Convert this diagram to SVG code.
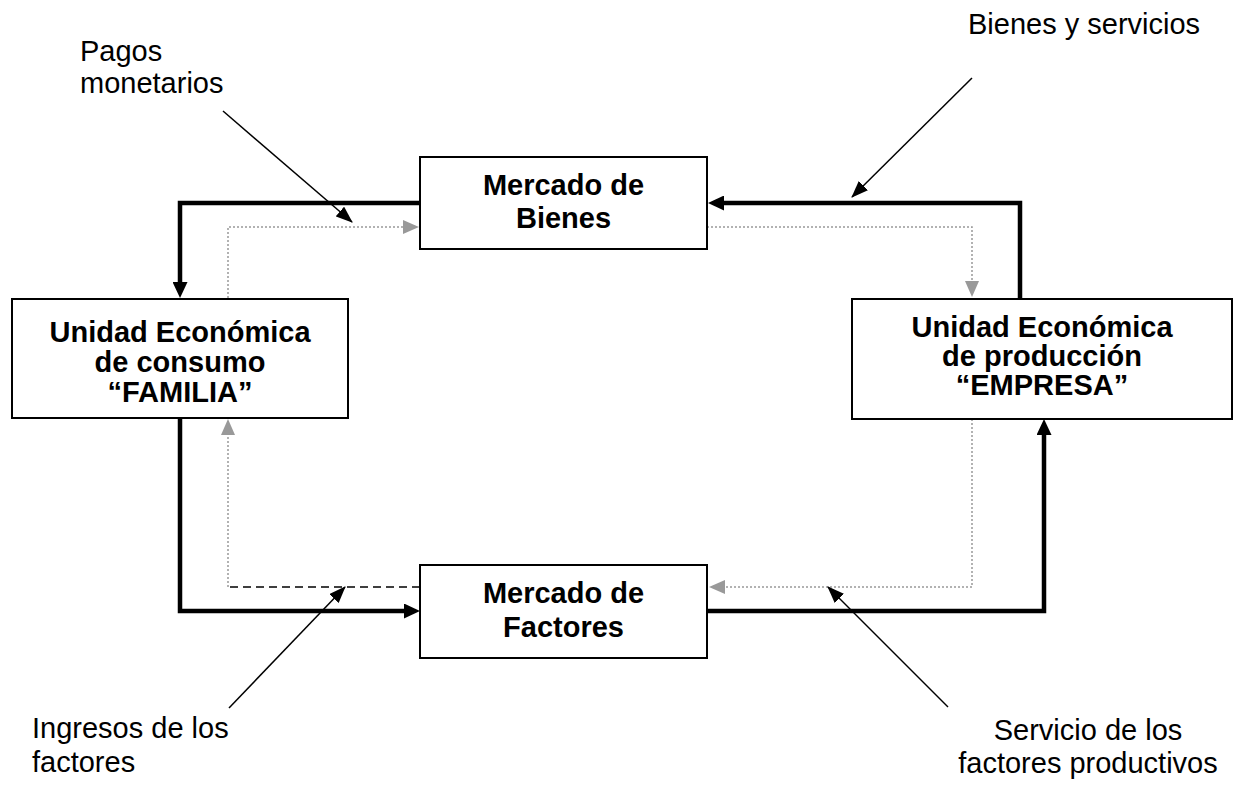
<svg xmlns="http://www.w3.org/2000/svg" width="1241" height="788" viewBox="0 0 1241 788">
<style>
.box{fill:#fff;stroke:#000;stroke-width:2}
.bt{font-family:"Liberation Sans",Arial,sans-serif;font-size:29px;font-weight:bold;fill:#000;text-anchor:middle}
.lt{font-family:"Liberation Sans",Arial,sans-serif;font-size:29px;fill:#000}
.thick{fill:none;stroke:#000;stroke-width:4.5;marker-end:url(#aThick)}
.dot{fill:none;stroke:#999;stroke-width:1.5;stroke-dasharray:2 2;marker-end:url(#aGray)}
.dash{fill:none;stroke:#000;stroke-width:1.5;stroke-dasharray:8 5}
.thin{fill:none;stroke:#000;stroke-width:1.5;marker-end:url(#aThin)}
</style>
<defs>
<marker id="aThick" markerUnits="userSpaceOnUse" markerWidth="16" markerHeight="15" refX="1" refY="7.5" orient="auto"><path d="M0,0 L16,7.5 L0,15 z" fill="#000"/></marker>
<marker id="aGray" markerUnits="userSpaceOnUse" markerWidth="16" markerHeight="14" refX="1" refY="7" orient="auto"><path d="M0,0 L16,7 L0,14 z" fill="#999"/></marker>
<marker id="aThin" markerUnits="userSpaceOnUse" markerWidth="17" markerHeight="13" refX="16" refY="6.5" orient="auto"><path d="M0,0 L17,6.5 L0,13 z" fill="#000"/></marker>
</defs>
<rect width="1241" height="788" fill="#fff"/>
<g id="connectors">
<path class="thick" d="M420,203 H180 V283"/>
<path class="thick" d="M1020,298 V203 H723"/>
<path class="thick" d="M180,418 V611 H405"/>
<path class="thick" d="M707,611 H1044 V434"/>
<path class="dot" d="M228,298 V227 H404"/>
<path class="dot" d="M707,227 H972 V282"/>
<path class="dot" d="M972,419 V587 H724"/>
<path class="dash" d="M420,587 H230"/>
<path class="dot" d="M228,587 V434"/>
<path class="thin" d="M223,111 L352,222"/>
<path class="thin" d="M972,78 L852,197"/>
<path class="thin" d="M229,708 L345,587"/>
<path class="thin" d="M948,707 L828,587"/>
</g>
<g id="mercado-bienes">
<rect class="box" x="420" y="157" width="287" height="92"/>
<text class="bt" x="563.5" y="195">Mercado de</text>
<text class="bt" x="563.5" y="228">Bienes</text>
</g>
<g id="mercado-factores">
<rect class="box" x="420" y="565" width="287" height="93"/>
<text class="bt" x="563.5" y="603">Mercado de</text>
<text class="bt" x="563.5" y="637">Factores</text>
</g>
<g id="familia">
<rect class="box" x="12" y="299" width="336" height="119"/>
<text class="bt" x="180" y="342">Unidad Económica</text>
<text class="bt" x="180" y="372">de consumo</text>
<text class="bt" x="180" y="402">“FAMILIA”</text>
</g>
<g id="empresa">
<rect class="box" x="852" y="299" width="380" height="120"/>
<text class="bt" x="1042" y="337">Unidad Económica</text>
<text class="bt" x="1042" y="366">de producción</text>
<text class="bt" x="1042" y="395">“EMPRESA”</text>
</g>
<g id="label-pagos">
<text class="lt" x="80" y="61">Pagos</text>
<text class="lt" x="80" y="93">monetarios</text>
</g>
<g id="label-bienes-servicios">
<text class="lt" x="968" y="34">Bienes y servicios</text>
</g>
<g id="label-ingresos">
<text class="lt" x="32" y="738">Ingresos de los</text>
<text class="lt" x="32" y="772">factores</text>
</g>
<g id="label-servicio">
<text class="lt" x="1088" y="740" text-anchor="middle">Servicio de los</text>
<text class="lt" x="1088" y="773" text-anchor="middle">factores productivos</text>
</g>
</svg>
